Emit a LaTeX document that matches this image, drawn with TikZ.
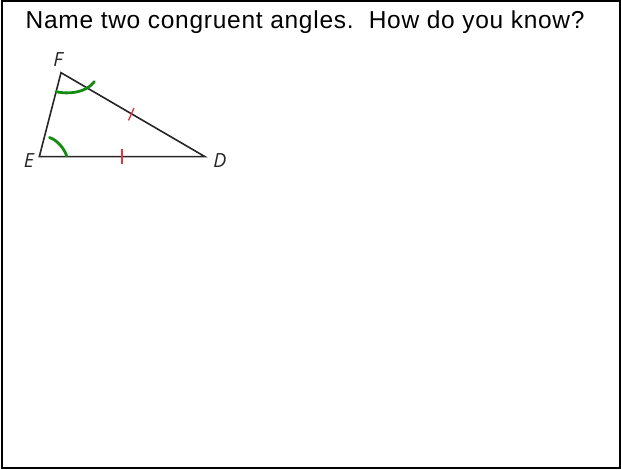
\documentclass[tikz,border=0pt]{standalone}
\usepackage{fontspec}
\setmainfont{Liberation Sans}
\newfontfamily\labfont{Open Sans}
\definecolor{angG}{RGB}{20,140,20}
\definecolor{tickR}{RGB}{230,50,60}
\begin{document}
\begin{tikzpicture}[x=1pt,y=-1pt,
  side/.style={line width=1.6pt,black!85},
  angmark/.style={line width=2.8pt,angG,line cap=round},
  tickmark/.style={line width=1.3pt,tickR},
  vlab/.style={font=\labfont\itshape\fontsize{19.5}{20}\selectfont,inner sep=0pt,text=black!85}]
\useasboundingbox (0,0) rectangle (621,470);
\draw[line width=2pt] (2,1.5) rectangle (620,468);
\node[anchor=base west,inner sep=0pt,font=\addfontfeature{LetterSpace=3}\fontsize{24.5}{27}\selectfont] (q) at (25.5,29) {Name two congruent angles.\ \ How do you know?};
\coordinate (E) at (39.3,156.7);
\coordinate (F) at (61,72.7);
\coordinate (D) at (205,156.7);
\draw[side,line join=miter] (E) -- (F) -- (D) -- cycle;
\node[vlab] (lF) at (58,60) {F};
\node[vlab] (lE) at (29,160.5) {E};
\node[vlab] (lD) at (220,160.5) {D};
\draw[angmark] (56,91.7) .. controls (68,94.5) and (86,93) .. (94.3,81.7);
\draw[angmark] (49.5,137.5) .. controls (57,140) and (64,148) .. (66.7,156);
\draw[tickmark] (122,149.3) -- (122,164);
\draw[tickmark] (128.5,120.5) -- (134,108);
\end{tikzpicture}
\end{document}
